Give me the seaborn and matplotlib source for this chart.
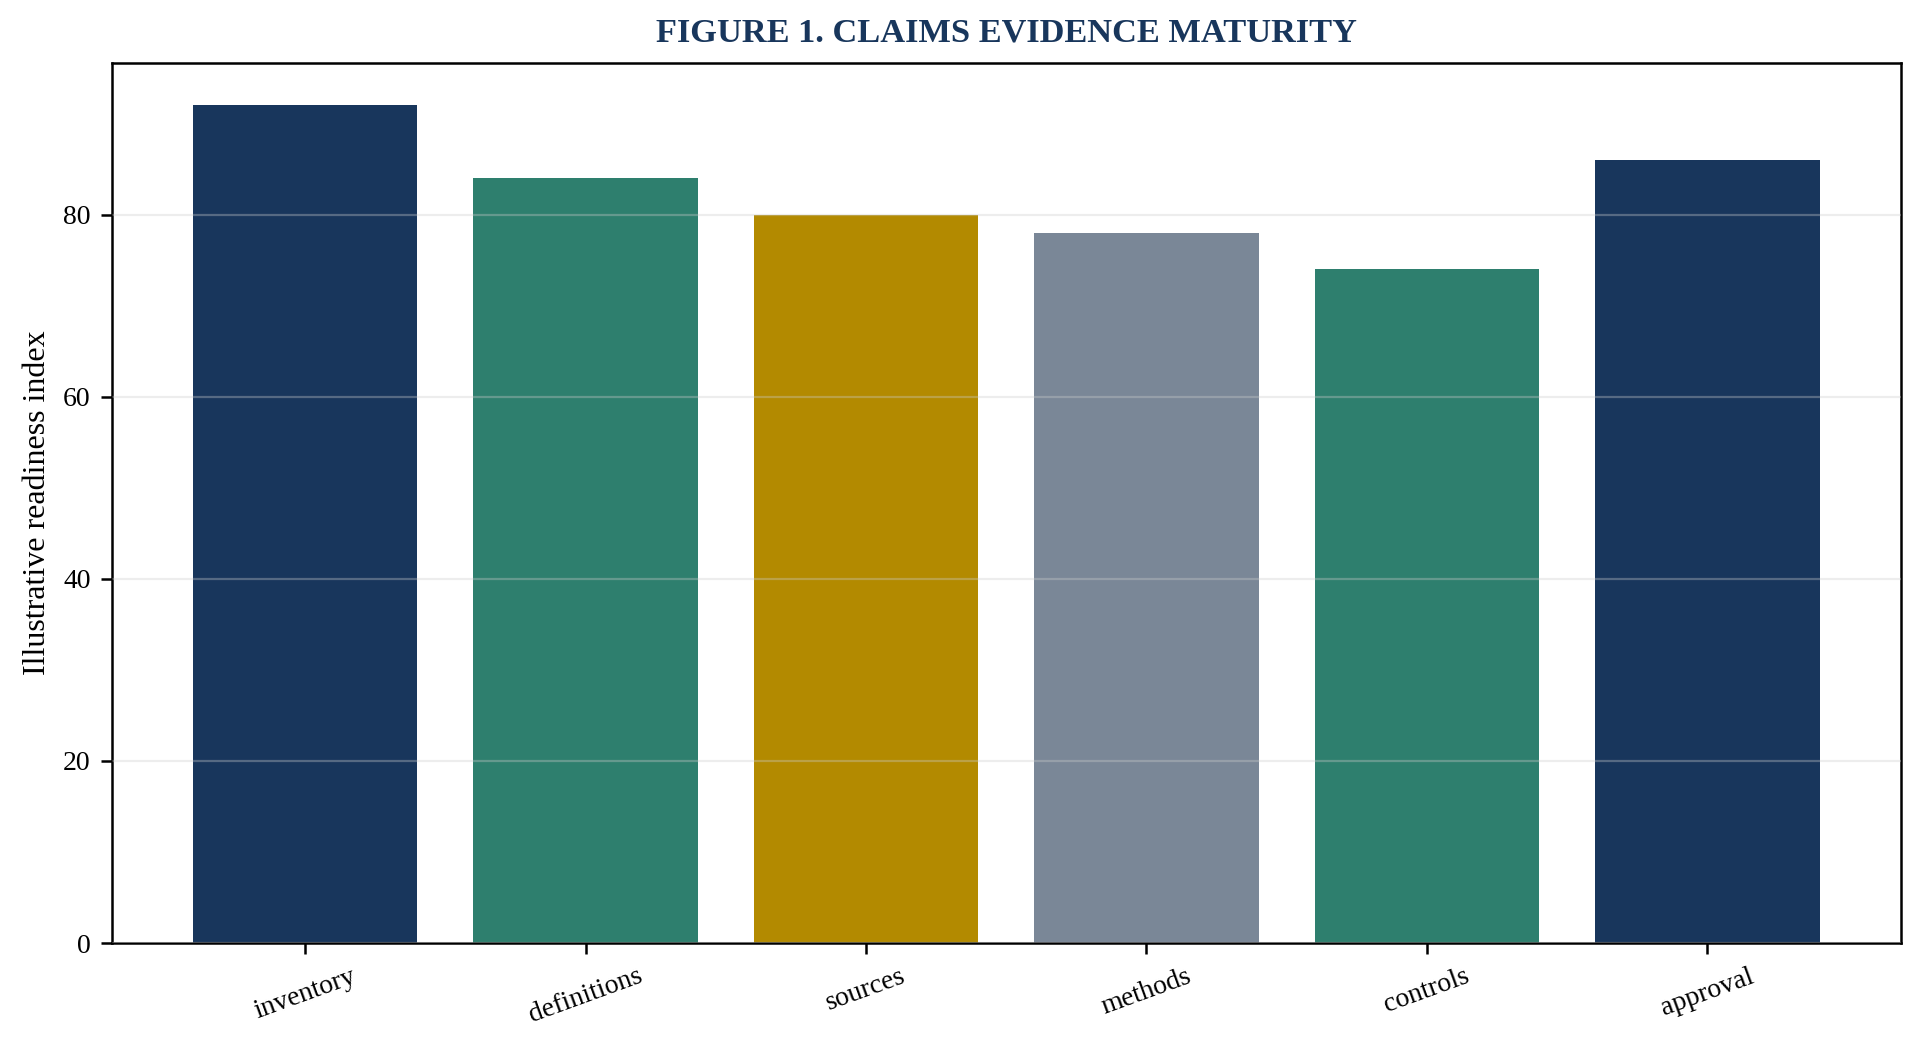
import matplotlib
matplotlib.use("Agg")
import matplotlib.pyplot as plt
import seaborn as sns
import pandas as pd

# data
categories = ["inventory", "definitions", "sources", "methods", "controls", "approval"]
readiness = [92, 84, 80, 78, 74, 86]
bar_colors = ["#18365C", "#2E7F6E", "#B38A00", "#7A8797", "#2E7F6E", "#18365C"]
y_ticks = [0, 20, 40, 60, 80]

NAVY = "#18365C"


def generate_chart():
    sns.set_theme(style="ticks")
    plt.rcParams["font.family"] = ["Liberation Serif", "DejaVu Serif"]

    df = pd.DataFrame({"category": categories, "value": readiness})

    fig, ax = plt.subplots(figsize=(9.62, 5.28), dpi=200)
    sns.barplot(
        data=df, x="category", y="value", hue="category",
        palette=bar_colors, legend=False, width=0.8, saturation=1,
        linewidth=0, ax=ax,
    )

    # matplotlib-like margins around the bars
    ax.set_xlim(-0.69, len(categories) - 1 + 0.69)
    ax.set_ylim(0, max(readiness) * 1.05)
    ax.set_yticks(y_ticks)

    ax.grid(axis="y", color="#cccccc", alpha=0.35, linewidth=0.8)
    ax.set_axisbelow(False)

    for side in ["top", "right", "left", "bottom"]:
        ax.spines[side].set_visible(True)
        ax.spines[side].set_color("black")
        ax.spines[side].set_linewidth(0.9)

    ax.tick_params(axis="both", labelsize=10, colors="black", length=4, width=0.9)
    plt.setp(ax.get_xticklabels(), rotation=20)

    ax.set_xlabel("")
    ax.set_ylabel("Illustrative readiness index", fontsize=11.5, color="black")
    ax.set_title("FIGURE 1. CLAIMS EVIDENCE MATURITY", fontsize=12.4,
                 fontweight="bold", color=NAVY, pad=8)

    fig.subplots_adjust(left=0.058, right=0.988, top=0.940, bottom=0.107)
    fig.savefig("out.png", dpi=200)


if __name__ == "__main__":
    generate_chart()
